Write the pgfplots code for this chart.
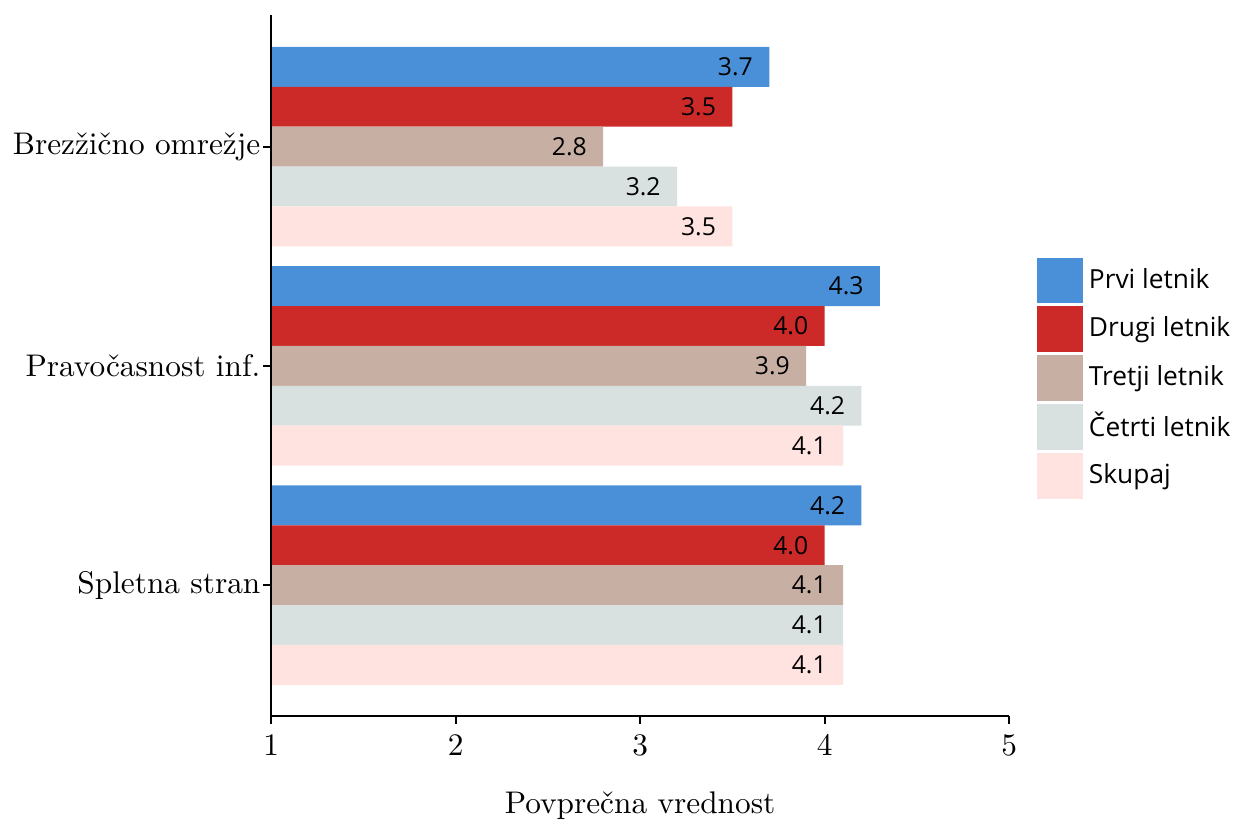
\documentclass[border=0pt]{standalone}
\usepackage{pgfplots}
\pgfplotsset{compat=1.18}
\usepackage{pgfplotstable}
\usepackage{fontspec}
\newfontfamily\osans{Open Sans}
\definecolor{c1}{HTML}{4A90D9}
\definecolor{c2}{HTML}{CC2929}
\definecolor{c3}{HTML}{C7AFA4}
\definecolor{c4}{HTML}{D9E1E0}
\definecolor{c5}{HTML}{FFE3E0}
\pgfplotstableread{
y  prvi drugi tretji cetrti skupaj
2  3.7  3.5   2.8    3.2    3.5
1  4.3  4.0   3.9    4.2    4.1
0  4.2  4.0   4.1    4.1    4.1
}\datatab
\begin{document}
\begin{tikzpicture}
\begin{axis}[
  name=ax,
  scale only axis,
  width=235.7pt, height=223.9pt,
  xbar, bar width=0.1818,
  xmin=1, xmax=5, ymin=-0.597, ymax=2.6,
  xtick={1,2,3,4,5},
  ytick={0,1,2},
  yticklabels={Spletna stran, Pravočasnost inf., Brezžično omrežje},
  yticklabel style={xshift=2.6pt},
  axis x line*=bottom, axis y line*=left,
  axis line style={line width=0.65pt, -},
  axis on top,
  tick style={line width=0.6pt, black},
  tick align=outside, major tick length=2.5pt,
  xlabel={Povprečna vrednost},
  xlabel style={yshift=-5pt},
  nodes near coords={\osans\fontsize{7.9}{9}\selectfont\pgfmathprintnumber[fixed,fixed zerofill,precision=1,assume math mode=true]{\pgfplotspointmeta}},
  every node near coord/.append style={anchor=east, xshift=-1.7pt, black},
  legend style={draw=none, at={(1.037,0.482)}, anchor=west,
    font=\osans\fontsize{8.4}{10}\selectfont, row sep=1.0pt,
    inner xsep=0pt, inner ysep=0pt},
  legend cell align=left,
  legend image code/.code={\fill[#1] (0pt,-7.3pt) rectangle (14.6pt,7.3pt);},
  clip=true,
]
\addplot[draw=none, fill=c1, bar shift=0.3636] table[x=prvi, y=y]{\datatab};
\addplot[draw=none, fill=c2, bar shift=0.1818] table[x=drugi, y=y]{\datatab};
\addplot[draw=none, fill=c3, bar shift=0] table[x=tretji, y=y]{\datatab};
\addplot[draw=none, fill=c4, bar shift=-0.1818] table[x=cetrti, y=y]{\datatab};
\addplot[draw=none, fill=c5, bar shift=-0.3636] table[x=skupaj, y=y]{\datatab};
\legend{Prvi letnik, Drugi letnik, Tretji letnik, Četrti letnik, Skupaj}
\end{axis}
\path ([xshift=-86.6pt,yshift=-33.4pt]ax.south west) rectangle ([xshift=72.8pt,yshift=4.8pt]ax.north east);
\end{tikzpicture}
\end{document}
